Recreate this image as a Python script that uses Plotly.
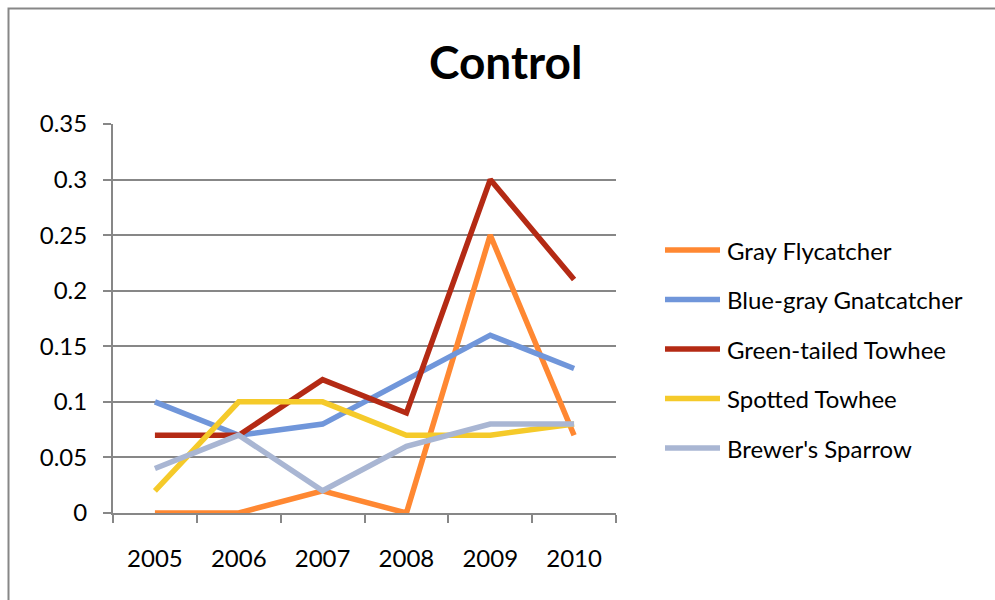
import plotly.graph_objects as go

# Survey years and detection rates per species (Control plots)
years = ["2005", "2006", "2007", "2008", "2009", "2010"]
species = [
    "Gray Flycatcher",
    "Blue-gray Gnatcatcher",
    "Green-tailed Towhee",
    "Spotted Towhee",
    "Brewer's Sparrow",
]
gray_flycatcher = [0.0, 0.0, 0.02, 0.0, 0.25, 0.07]
blue_gray_gnatcatcher = [0.10, 0.07, 0.08, 0.12, 0.16, 0.13]
green_tailed_towhee = [0.07, 0.07, 0.12, 0.09, 0.30, 0.21]
spotted_towhee = [0.02, 0.10, 0.10, 0.07, 0.07, 0.08]
brewers_sparrow = [0.04, 0.07, 0.02, 0.06, 0.08, 0.08]
y_ticks = [0, 0.05, 0.1, 0.15, 0.2, 0.25, 0.3, 0.35]

series = [gray_flycatcher, blue_gray_gnatcatcher, green_tailed_towhee,
          spotted_towhee, brewers_sparrow]
colors = ["#FF8832", "#7096DA", "#B42A14", "#F5CA2A", "#A9B6D3"]

FONT = "Lato"
W, H = 995, 600
L, R, T, B = 113, 379, 124, 87
pw, ph = W - L - R, H - T - B

fig = go.Figure()
for name, vals, col in zip(species, series, colors):
    fig.add_trace(go.Scatter(
        x=years, y=vals, mode="lines", name=name,
        line=dict(color=col, width=5.5),
        showlegend=False,
    ))

def px_x(p):
    return (p - L) / pw

def px_y(p):
    return (H - B - p) / ph

shapes = []
annotations = []

# Outer chart frame
shapes.append(dict(type="rect", xref="paper", yref="paper",
                   x0=px_x(8.5), x1=px_x(1010), y0=px_y(610), y1=px_y(8.5),
                   line=dict(color="#878787", width=2), layer="below"))

# Legend on the right
for i, (name, col) in enumerate(zip(species, colors)):
    yy = 250 + i * 49.5
    shapes.append(dict(type="line", xref="paper", yref="paper",
                       x0=px_x(665), x1=px_x(720), y0=px_y(yy), y1=px_y(yy),
                       line=dict(color=col, width=5.5)))
    annotations.append(dict(text=name, xref="paper", yref="paper",
                            x=px_x(725), y=px_y(yy), xanchor="left",
                            yanchor="middle", showarrow=False,
                            font=dict(family=FONT, size=24, color="#000")))

# Title
annotations.append(dict(text="<b>Control</b>", xref="paper", yref="paper",
                        x=px_x(505), y=px_y(62), xanchor="center",
                        yanchor="middle", showarrow=False,
                        font=dict(family=FONT, size=46, color="#000")))

fig.update_layout(
    width=W, height=H,
    margin=dict(l=L, r=R, t=T, b=B, pad=0),
    paper_bgcolor="white", plot_bgcolor="white",
    font=dict(family=FONT, size=24, color="#000"),
    shapes=shapes, annotations=annotations,
    showlegend=False,
)
fig.update_xaxes(
    type="category", range=[-0.5, 5.5],
    showline=True, linecolor="#878787", linewidth=2,
    ticks="outside", tickson="boundaries", ticklen=8, tickwidth=2,
    tickcolor="#878787", showgrid=False, ticklabelstandoff=23,
    tickfont=dict(family=FONT, size=24),
)
fig.update_yaxes(
    range=[0, 0.35], tickvals=y_ticks,
    ticktext=[("%g" % v) for v in y_ticks],
    showline=True, linecolor="#878787", linewidth=2,
    ticks="outside", ticklen=8, tickwidth=2, tickcolor="#878787",
    showgrid=True, gridcolor="#878787", gridwidth=2,
    zeroline=False, ticklabelstandoff=11,
    tickfont=dict(family=FONT, size=24),
)

fig.write_html("out.html")
